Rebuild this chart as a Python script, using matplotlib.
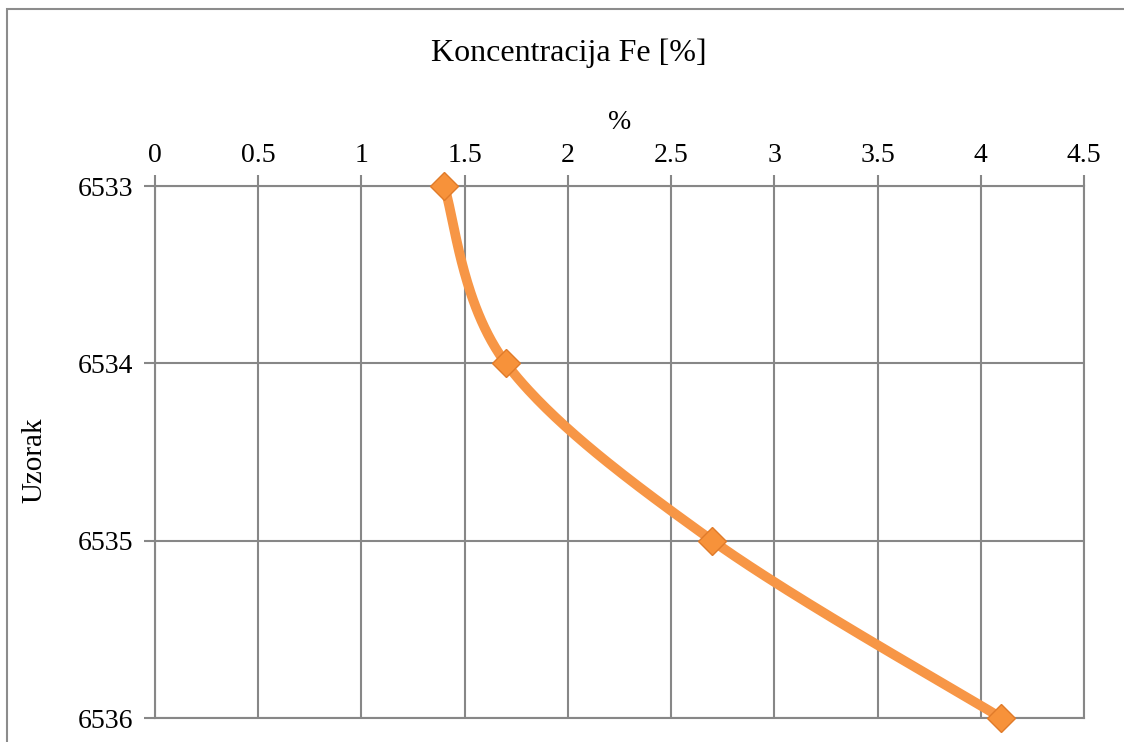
import numpy as np
import matplotlib.pyplot as plt
from matplotlib.patches import Rectangle

# data
fe_pct = [1.4, 1.7, 2.7, 4.1]
uzorak = [6533, 6534, 6535, 6536]
x_ticks = [0, 0.5, 1, 1.5, 2, 2.5, 3, 3.5, 4, 4.5]
x_ticklabels = ['0', '0.5', '1', '1.5', '2', '2.5', '3', '3.5', '4', '4.5']
y_ticks = [6533, 6534, 6535, 6536]

plt.rcParams['font.family'] = ['Liberation Serif', 'DejaVu Serif']
orange = '#F79646'
grid_c = '#878787'

fig = plt.figure(figsize=(11.24, 7.42), dpi=100)
ax = fig.add_axes([155/1124, 1-718/742, (1084-155)/1124, (718-186)/742])

ax.set_xlim(0, 4.5)
ax.set_ylim(6536, 6533)
ax.xaxis.tick_top()
ax.xaxis.set_label_position('top')
ax.set_xticks(x_ticks)
ax.set_xticklabels(x_ticklabels)
ax.set_yticks(y_ticks)
ax.tick_params(axis='both', labelsize=20, color=grid_c, width=1.5, length=8, direction='out', pad=5)
ax.tick_params(axis='y', pad=8)
ax.grid(True, color=grid_c, linewidth=1.5)
for s in ax.spines.values():
    s.set_color(grid_c)
    s.set_linewidth(1.5)
ax.set_axisbelow(True)

ax.set_xlabel('%', fontsize=20, labelpad=10)
ax.set_ylabel('Uzorak', fontsize=21)
ax.yaxis.set_label_coords(-0.116, 0.485)

# Excel-like smoothed line (Catmull-Rom bezier in screen space)
fig.canvas.draw()
pts = ax.transData.transform(np.column_stack([fe_pct, uzorak]))
n = len(pts)
t = np.linspace(0, 1, 60)[:, None]
seg_pts = []
for i in range(n - 1):
    p0 = pts[max(i - 1, 0)]
    p1 = pts[i]
    p2 = pts[i + 1]
    p3 = pts[min(i + 2, n - 1)]
    c1 = p1 + (p2 - p0) / 6
    c2 = p2 - (p3 - p1) / 6
    seg_pts.append((1-t)**3*p1 + 3*(1-t)**2*t*c1 + 3*(1-t)*t**2*c2 + t**3*p2)
seg_pts = np.vstack(seg_pts)
curve_data = ax.transData.inverted().transform(seg_pts)
ax.plot(curve_data[:, 0], curve_data[:, 1], color=orange, linewidth=7,
        solid_capstyle='round', clip_on=False, zorder=3)
ax.plot(fe_pct, uzorak, linestyle='none', marker='D', markersize=14,
        markerfacecolor='#F7923A', markeredgecolor='#E07B2A', markeredgewidth=1,
        clip_on=False, zorder=4)

fig.text(569/1124, 1-53/742, 'Koncentracija Fe [%]', fontsize=23, ha='center', va='center')
fig.patches.append(Rectangle((7/1124, -0.1), 1.2, 1-9/742+0.1, transform=fig.transFigure,
                             fill=False, edgecolor='#8c8c8c', linewidth=1.5))

fig.savefig('out.png', dpi=100)
